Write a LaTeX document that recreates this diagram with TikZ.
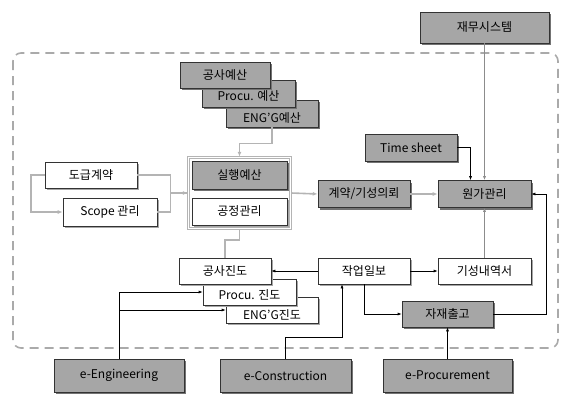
\documentclass[tikz,border=0pt]{standalone}
\usepackage{fontspec}
\setmainfont{Noto Sans CJK KR}
\usetikzlibrary{arrows.meta,positioning,fit,calc,shadows}
\definecolor{boxgray}{RGB}{166,166,166}
\definecolor{linegray}{RGB}{180,180,180}
\definecolor{framegray}{RGB}{170,170,170}
\newcommand{\lowtext}[2][-9pt]{\raisebox{#1}[0pt][0pt]{#2}}
\tikzset{
  gbox/.style={draw=black!80,fill=boxgray,line width=0.6pt,
    font=\fontsize{12}{14}\selectfont,inner sep=0pt,
    drop shadow={shadow xshift=2pt,shadow yshift=-2pt,opacity=1,fill=black!55}},
  wbox/.style={gbox,fill=white,
    drop shadow={shadow xshift=2pt,shadow yshift=-2pt,opacity=1,fill=black!35}},
  gline/.style={draw=linegray,line width=1.6pt,-{Latex[length=5pt,width=4pt]}},
  tline/.style={draw=black!45,line width=0.8pt,-{Latex[length=4pt,width=3pt,fill=black]}},
  bline/.style={draw=black,line width=0.6pt,-{Latex[length=4pt,width=3pt]}}
}
\begin{document}
\begin{tikzpicture}[x=1pt,y=-1pt]
  \useasboundingbox (0,0) rectangle (561,397);
  %% outer frame
  \draw[framegray,line width=1.6pt,dash pattern=on 9pt off 6pt,rounded corners=8pt]
    (13,53) rectangle (558,348);
  %% top
  \node[gbox,minimum width=129,minimum height=31] (fin) at (484.5,27.5) {재무시스템};
  %% budgets
  \node[gbox,minimum width=92,minimum height=27] (engbud) at (272,113.5) {\lowtext{ENG'G예산}};
  \node[gbox,minimum width=93,minimum height=27] (procbud) at (248.5,93.5) {\lowtext[-7pt]{Procu. 예산}};
  \node[gbox,minimum width=90,minimum height=26] (conbud) at (225,75) {공사예산};
  %% group
  \node[gbox,minimum width=95,minimum height=28] (exec) at (239.5,175) {실행예산};
  \node[wbox,minimum width=95,minimum height=27] (sched) at (239.5,211.5) {공정관리};
  \node[draw=linegray,double=white,double distance=1.2pt,line width=0.9pt,
        fit=(exec)(sched),inner sep=3.5pt] (grp) {};
  \node[wbox,minimum width=92,minimum height=26] (contract) at (91,175) {도급계약};
  \node[wbox,minimum width=94,minimum height=28] (scope) at (110,212) {Scope 관리};
  %% cost
  \node[gbox,minimum width=92,minimum height=27] (req) at (364,194) {계약/기성의뢰};
  \node[gbox,minimum width=93,minimum height=27] (cost) at (484.5,194) {원가관리};
  \node[gbox,minimum width=92,minimum height=27] (tsheet) at (411,147.5) {Time sheet};
  \node[wbox,minimum width=93,minimum height=26] (prog) at (484.5,271) {기성내역서};
  \node[wbox,minimum width=92,minimum height=26] (daily) at (364,271) {작업일보};
  \node[gbox,minimum width=91,minimum height=26] (issue) at (447.5,314) {자재출고};
  %% progress
  \node[wbox,minimum width=92,minimum height=26] (engprog) at (272,310) {\lowtext{ENG'G진도}};
  \node[wbox,minimum width=93,minimum height=26] (procprog) at (249.5,292) {\lowtext[-7pt]{Procu. 진도}};
  \node[wbox,minimum width=92,minimum height=26] (conprog) at (225,271) {공사진도};
  %% systems
  \node[gbox,minimum width=130,minimum height=33] (eeng) at (119,375.5) {e-Engineering};
  \node[gbox,minimum width=131,minimum height=33] (econ) at (285.5,375.5) {e-Construction};
  \node[gbox,minimum width=129,minimum height=33] (eproc) at (447.5,375.5) {e-Procurement};
  %% gray links
  \draw[gline] (engbud.south) -- ++(0,16) -| (grp.north);
  \draw[gline] (contract.west) -- ++(-14,0) |- (scope.west);
  \draw[gline,-] (contract.east) -- ++(33,0) |- (grp.west);
  \draw[gline] (scope.east) -- ++(13,0) |- (grp.west);
  \draw[gline] (grp.east) -- (req.west);
  \draw[gline] (req.east) -- (cost.west);
  \draw[gline,-] (grp.south) -- ++(0,11) -| (conprog.north);
  \draw[tline] (fin.south) -- (cost.north);
  \draw[tline] (prog.north) -- (cost.south);
  %% black links
  \draw[bline] (tsheet.east) -| ($(cost.north)+(-14,0)$);
  \draw[bline] (daily.east) -- (prog.west);
  \draw[bline] (daily.west) -- (conprog.east);
  \draw[bline] (daily.south) |- (issue.west);
  \draw[bline] (issue.east) -- ++(53,0) |- (cost.east);
  \draw[bline] (eproc.north) -- (issue.south);
  \draw[bline] (econ.north) -- ++(0,-21) -| ($(daily.south)+(-22,0)$);
  \draw[bline] (eeng.north) |- (procprog.west);
  \draw[bline] (eeng.north) |- (engprog.west);
\end{tikzpicture}
\end{document}
